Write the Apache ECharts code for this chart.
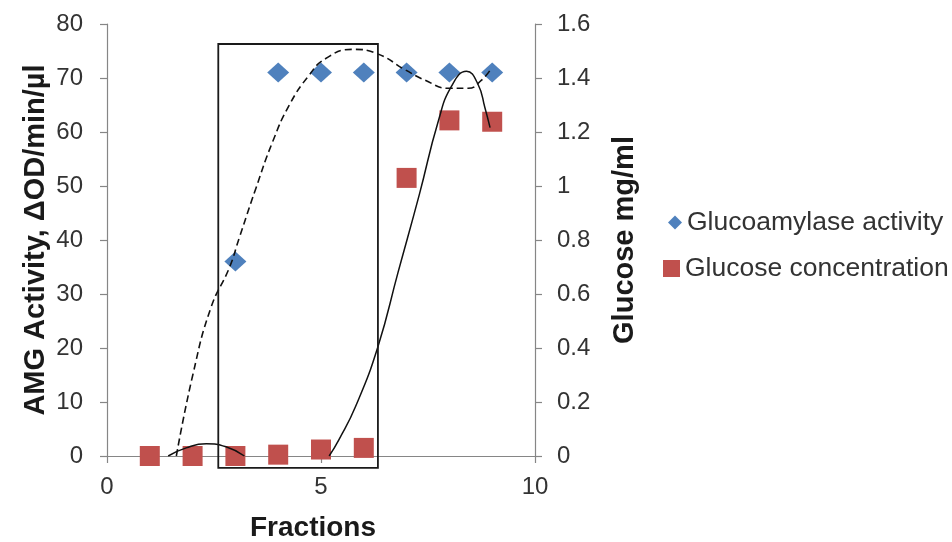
<!DOCTYPE html>
<html>
<head>
<meta charset="utf-8">
<script src="https://cdn.jsdelivr.net/npm/echarts@6/dist/echarts.min.js"></script>
<style>
html,body{margin:0;padding:0;background:#fff}
#c{width:952px;height:542px}
</style>
</head>
<body>
<div id="c"></div>
<script>
// Glucoamylase activity (left axis) per fraction
const activityFractions = [3, 4, 5, 6, 7, 8, 9];
const activity = [36, 71, 71, 71, 71, 71, 71];

// Glucose concentration (right axis) per fraction
const glucoseFractions = [1, 2, 3, 4, 5, 6, 7, 8, 9];
const glucose = [0, 0, 0, 0.005, 0.024, 0.03, 1.03, 1.243, 1.238];

// Trend curves, as [fraction, value] pairs
const activityTrend = [[1.62,0],[2.01,15.2],[2.43,27.5],[2.86,34.9],[3.09,40.4],[3.48,49.6],[3.87,58.2],[4.26,65.0],[4.72,70.5],[5.11,73.6],[5.73,75.3],[6.31,74.5],[6.97,71.5],[7.43,69.6],[7.98,68.1],[8.44,68.1],[8.75,69.6],[8.98,71.8]];
const glucoseTrendLow = [[1.43,0],[1.85,0.03],[2.32,0.045],[2.78,0.034],[3.21,0]];
const glucoseTrendHigh = [[5.19,0],[5.42,0.061],[5.81,0.184],[6.33,0.405],[6.8,0.68],[7.3,0.97],[7.74,1.24],[8.05,1.37],[8.4,1.425],[8.67,1.376],[8.83,1.29],[8.95,1.216]];

// Highlighted fraction window (left-axis units)
const windowX = [2.6, 6.33];
const windowY = [-2.2, 76.3];

// Axis ticks
const xTicks = { min: 0, max: 10, interval: 5 };
const leftTicks = { min: 0, max: 80, interval: 10 };
const rightTicks = { min: 0, max: 1.6, interval: 0.2 };

const FONT = "'Liberation Sans', Arial, sans-serif";
const axisGray = '#868686';
const labelColor = '#333333';

const chart = echarts.init(document.getElementById('c'), null, { renderer: 'canvas' });

const pairs = (xs, ys) => xs.map((x, i) => [x, ys[i]]);

const valueAxisCommon = {
  type: 'value',
  axisLine: { show: true, lineStyle: { color: axisGray, width: 1.2 } },
  axisTick: { show: true, length: 7, lineStyle: { color: axisGray, width: 1.2 } },
  splitLine: { show: false },
  axisLabel: { color: labelColor, fontSize: 24, fontFamily: FONT },
  nameTextStyle: { color: '#1a1a1a', fontSize: 29, fontWeight: 'bold', fontFamily: FONT }
};

chart.setOption({
  animation: false,
  backgroundColor: '#ffffff',
  grid: { left: 107, right: 417, top: 24, bottom: 86, outerBoundsMode: 'none', containLabel: false },
  xAxis: Object.assign({}, valueAxisCommon, {
    min: xTicks.min, max: xTicks.max, interval: xTicks.interval,
    name: 'Fractions', nameLocation: 'middle', nameGap: 58,
    axisLabel: Object.assign({}, valueAxisCommon.axisLabel, { margin: 19 }),
    nameTextStyle: Object.assign({}, valueAxisCommon.nameTextStyle, { fontSize: 28, padding: [0, 16, 0, 0] })
  }),
  yAxis: [
    Object.assign({}, valueAxisCommon, {
      position: 'left',
      min: leftTicks.min, max: leftTicks.max, interval: leftTicks.interval,
      name: 'AMG Activity, ΔOD/min/µl', nameLocation: 'middle', nameRotate: 90, nameGap: 57,
      axisLabel: Object.assign({}, valueAxisCommon.axisLabel, { margin: 24 })
    }),
    Object.assign({}, valueAxisCommon, {
      position: 'right',
      min: rightTicks.min, max: rightTicks.max, interval: rightTicks.interval,
      name: 'Glucose mg/ml', nameLocation: 'middle', nameRotate: 90, nameGap: 75,
      axisLabel: Object.assign({}, valueAxisCommon.axisLabel, { margin: 22 })
    })
  ],
  legend: [
    {
      data: [{ name: 'Glucoamylase activity', icon: 'diamond' }],
      left: 668, top: 209, padding: 0, itemGap: 0,
      itemWidth: 14, itemHeight: 14, selectedMode: false,
      textStyle: { color: labelColor, fontSize: 26.5, fontFamily: FONT }
    },
    {
      data: [{ name: 'Glucose concentration', icon: 'rect' }],
      left: 663, top: 255, padding: 0, itemGap: 0,
      itemWidth: 17, itemHeight: 17, selectedMode: false,
      textStyle: { color: labelColor, fontSize: 26.5, fontFamily: FONT }
    }
  ],
  series: [
    {
      name: 'Glucoamylase activity', type: 'scatter', xAxisIndex: 0, yAxisIndex: 0,
      data: pairs(activityFractions, activity),
      symbol: 'diamond', symbolSize: [22, 20],
      itemStyle: { color: '#4F81BD', opacity: 1 }, z: 2, silent: true
    },
    {
      name: 'Glucose concentration', type: 'scatter', xAxisIndex: 0, yAxisIndex: 1,
      data: pairs(glucoseFractions, glucose),
      symbol: 'rect', symbolSize: 20,
      itemStyle: { color: '#C0504D', opacity: 1 }, z: 2, silent: true
    },
    {
      type: 'line', xAxisIndex: 0, yAxisIndex: 0, data: activityTrend,
      smooth: true, showSymbol: false, symbol: 'none', silent: true, z: 3,
      lineStyle: { color: '#111', width: 1.6, type: [7, 4] }
    },
    {
      type: 'line', xAxisIndex: 0, yAxisIndex: 1, data: glucoseTrendLow,
      smooth: true, showSymbol: false, symbol: 'none', silent: true, z: 3,
      lineStyle: { color: '#111', width: 1.5 }
    },
    {
      type: 'line', xAxisIndex: 0, yAxisIndex: 1, data: glucoseTrendHigh,
      smooth: true, showSymbol: false, symbol: 'none', silent: true, z: 3,
      lineStyle: { color: '#111', width: 1.5 }
    }
  ]
});

// Outline box around the active fractions
const tl = chart.convertToPixel({ xAxisIndex: 0, yAxisIndex: 0 }, [windowX[0], windowY[1]]);
const br = chart.convertToPixel({ xAxisIndex: 0, yAxisIndex: 0 }, [windowX[1], windowY[0]]);
chart.setOption({
  graphic: [{
    type: 'rect', z: 100, silent: true,
    shape: { x: tl[0], y: tl[1], width: br[0] - tl[0], height: br[1] - tl[1] },
    style: { fill: 'none', stroke: '#1a1a1a', lineWidth: 1.8 }
  }]
});
</script>
</body>
</html>
